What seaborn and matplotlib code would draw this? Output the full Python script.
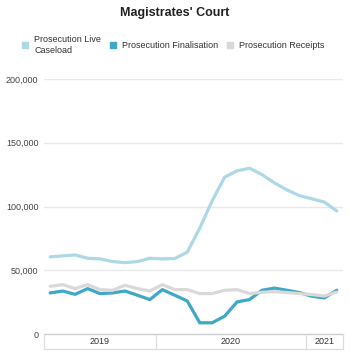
import matplotlib
matplotlib.use('Agg')
import matplotlib.pyplot as plt
import numpy as np
import pandas as pd
import seaborn as sns
from matplotlib.lines import Line2D

# monthly values, Apr 2019 - Mar 2021
months = [
    'Apr 2019', 'May 2019', 'Jun 2019', 'Jul 2019', 'Aug 2019', 'Sep 2019',
    'Oct 2019', 'Nov 2019', 'Dec 2019', 'Jan 2020', 'Feb 2020', 'Mar 2020',
    'Apr 2020', 'May 2020', 'Jun 2020', 'Jul 2020', 'Aug 2020', 'Sep 2020',
    'Oct 2020', 'Nov 2020', 'Dec 2020', 'Jan 2021', 'Feb 2021', 'Mar 2021',
]
live_caseload = [
    60500, 61300, 62000, 59400, 58900, 56800, 56000, 56800, 59400, 58900,
    59200, 64200, 83000, 104500, 123000, 128000, 130000, 125000, 118500,
    113000, 108500, 106000, 103500, 96500,
]
finalisation = [
    32200, 33700, 31100, 35600, 31700, 32200, 33700, 30400, 27000, 34800,
    30400, 25900, 8800, 8800, 14000, 25200, 27000, 34300, 36000, 34300,
    32500, 29600, 28300, 34300,
]
receipts = [
    37400, 38700, 35600, 38700, 34800, 34300, 38200, 35600, 33700, 38700,
    34800, 34800, 31700, 31700, 34300, 34800, 31700, 32700, 33200, 32500,
    31700, 30900, 29800, 32900,
]
series_names = ['Prosecution Live\nCaseload', 'Prosecution Finalisation',
                'Prosecution Receipts']
colors = ['#add8e6', '#3ea8c6', '#d9d9d9']
yticks = [0, 50000, 100000, 150000, 200000]

W, H = 350, 354
sns.set_theme(style='white')
plt.rcParams['font.family'] = ['Liberation Sans', 'DejaVu Sans']

df = pd.DataFrame({
    'idx': np.tile(np.arange(len(months)), 3),
    'value': live_caseload + finalisation + receipts,
    'series': np.repeat(series_names, len(months)),
})

fig = plt.figure(figsize=(W / 100, H / 100), dpi=100)
left, right = 44 / W, 343 / W
ax = fig.add_axes([left, (H - 334) / H, right - left, (334 - 79) / H])

# gridlines
for t in yticks[1:]:
    ax.axhline(t, color='#e9e9e9', lw=1.0, zorder=0)

# receipts drawn last so it sits on top, as in the original
sns.lineplot(data=df, x='idx', y='value', hue='series', hue_order=series_names,
             palette=dict(zip(series_names, colors)), linewidth=2.3,
             legend=False, ax=ax)

n = len(months)
ax.set_xlim(-0.5, n - 0.5)
ax.set_ylim(0, 200000)
ax.set_yticks(yticks)
ax.set_yticklabels([f'{t:,}' for t in yticks], fontsize=6.5, color='#444444')
ax.tick_params(axis='y', length=0, pad=4)
ax.set_xticks([])
ax.set_xlabel('')
ax.set_ylabel('')
for s in ['top', 'right', 'left']:
    ax.spines[s].set_visible(False)
ax.spines['bottom'].set_color('#cccccc')
ax.spines['bottom'].set_linewidth(1.0)

# year band under the axis
bax = fig.add_axes([left, (H - 349) / H, right - left, 15 / H])
bax.set_xlim(-0.5, n - 0.5)
bax.set_ylim(0, 1)
bax.axis('off')
years = [m[-4:] for m in months]
bax.plot([-0.5, n - 0.5], [0, 0], color='#dddddd', lw=0.9, clip_on=False)
bax.plot([-0.5, -0.5], [0, 1], color='#dddddd', lw=0.9, clip_on=False)
bax.plot([n - 0.5, n - 0.5], [0, 1], color='#dddddd', lw=0.9, clip_on=False)
start = 0
for i in range(1, n + 1):
    if i == n or years[i] != years[start]:
        if i < n:
            bax.plot([i - 0.5, i - 0.5], [0, 1], color='#dddddd', lw=0.9, clip_on=False)
        bax.text((start + i - 1) / 2, 0.5, years[start], ha='center', va='center',
                 fontsize=6.5, color='#333333')
        start = i

fig.text(0.5, (H - 13) / H, "Magistrates' Court", ha='center', va='center',
         fontsize=9, fontweight='bold', color='#222222')

handles = [Line2D([], [], marker='s', linestyle='', markersize=4.5,
                  markerfacecolor=c, markeredgecolor=c) for c in colors]
fig.legend(handles, series_names, loc='center left', ncol=3,
           bbox_to_anchor=(17 / W, (H - 45) / H), frameon=False,
           fontsize=6.5, handlelength=0.8, handletextpad=0.6,
           columnspacing=0.9, borderpad=0, labelcolor='#333333')

fig.savefig('out.png', dpi=100)
